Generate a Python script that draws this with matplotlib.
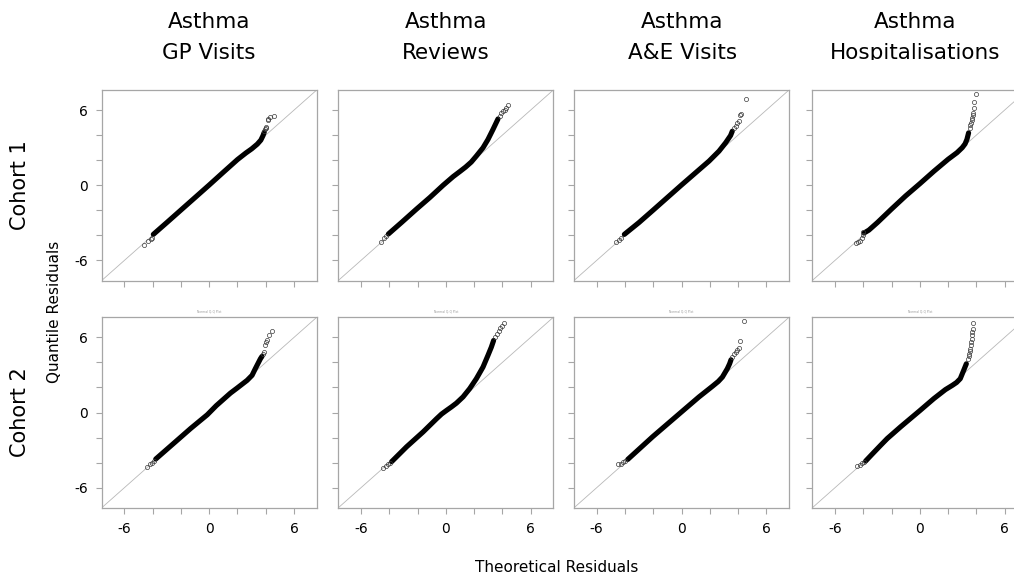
import matplotlib
matplotlib.use("Agg")
import matplotlib.pyplot as plt
from matplotlib.transforms import Bbox

plt.rcParams['font.family'] = ['DejaVu Sans']
plt.rcParams['axes.unicode_minus'] = False

outcomes = ["Asthma\nGP Visits", "Asthma\nReviews", "Asthma\nA&E Visits", "Asthma\nHospitalisations"]
cohorts = ["Cohort 1", "Cohort 2"]
tick_values = [-6, -4, -2, 0, 2, 4, 6]
tick_labels = ["-6", "", "", "0", "", "", "6"]

# Cohort 1 -- dense body of the Q-Q curve (theoretical, sample) and sparse tail points
c1_gp_x = [-3.95, -3.0, -2.0, -1.0, 0.0, 1.0, 2.0, 2.6, 3.0, 3.4, 3.65, 3.8, 3.88]
c1_gp_y = [-3.92, -2.98, -1.98, -0.98, 0.02, 1.04, 2.05, 2.58, 2.9, 3.28, 3.6, 3.95, 4.2]
c1_gp_tx = [-4.60, -4.32, -4.13, -4.05, 3.90, 3.95, 4.01, 4.05, 4.15, 4.18, 4.32, 4.58]
c1_gp_ty = [-4.76, -4.47, -4.31, -4.20, 4.31, 4.45, 4.58, 4.65, 5.19, 5.25, 5.45, 5.50]

c1_rev_x = [-4.06, -3.12, -2.07, -1.13, -0.19, 0.52, 1.0, 1.4, 1.8, 2.16, 2.63, 2.98, 3.33, 3.69]
c1_rev_y = [-3.89, -2.96, -1.90, -0.98, 0.0, 0.69, 1.1, 1.45, 1.85, 2.33, 2.99, 3.65, 4.44, 5.29]
c1_rev_tx = [-4.60, -4.37, -4.23, 3.80, 3.92, 4.04, 4.15, 4.23, 4.37]
c1_rev_ty = [-4.52, -4.23, -4.02, 5.56, 5.77, 5.93, 6.03, 6.16, 6.38]

c1_ae_x = [-4.04, -3.0, -2.0, -1.0, 0.0, 1.0, 1.95, 2.65, 3.12, 3.47, 3.59]
c1_ae_y = [-3.92, -2.97, -1.98, -0.98, 0.02, 1.0, 1.93, 2.72, 3.39, 3.97, 4.31]
c1_ae_tx = [-4.62, -4.44, -4.27, 3.71, 3.83, 3.94, 4.06, 4.13, 4.23, 4.58]
c1_ae_ty = [-4.52, -4.39, -4.23, 4.58, 4.76, 4.97, 5.11, 5.63, 5.69, 6.90]

c1_hosp_x = [-3.94, -3.6, -3.0, -2.0, -1.0, 0.0, 1.0, 2.0, 2.63, 3.0, 3.2, 3.33, 3.45]
c1_hosp_y = [-3.81, -3.58, -2.98, -1.9, -0.85, 0.12, 1.12, 2.07, 2.6, 3.0, 3.3, 3.65, 4.18]
c1_hosp_tx = [-4.53, -4.37, -4.23, -4.11, -4.01, -3.99, 3.52, 3.55, 3.62, 3.66, 3.69, 3.73, 3.76, 3.80, 3.85, 3.94]
c1_hosp_ty = [-4.60, -4.50, -4.42, -4.23, -3.97, -3.76, 4.58, 4.80, 4.97, 5.20, 5.37, 5.60, 5.77, 6.16, 6.61, 7.30]

# Cohort 2
c2_gp_x = [-3.78, -2.25, -1.31, -0.14, 0.5, 1.03, 1.5, 1.97, 2.68, 3.03, 3.26, 3.62, 3.73]
c2_gp_y = [-3.71, -2.20, -1.27, -0.18, 0.55, 1.08, 1.55, 1.95, 2.57, 2.97, 3.50, 4.29, 4.48]
c2_gp_tx = [-4.41, -4.18, -4.06, -3.90, 3.80, 3.85, 3.92, 4.01, 4.08, 4.20, 4.44]
c2_gp_ty = [-4.32, -4.11, -4.03, -3.84, 4.69, 4.82, 5.35, 5.62, 5.80, 6.15, 6.49]

c2_rev_x = [-3.83, -2.77, -1.60, -0.66, -0.3, 0.05, 0.4, 0.75, 1.22, 1.69, 2.16, 2.63, 2.98, 3.22, 3.38]
c2_rev_y = [-3.92, -2.73, -1.54, -0.5, -0.12, 0.17, 0.45, 0.75, 1.25, 1.91, 2.70, 3.63, 4.56, 5.22, 5.75]
c2_rev_tx = [-4.46, -4.23, -4.06, -3.94, 3.50, 3.62, 3.73, 3.85, 3.97, 4.11]
c2_rev_ty = [-4.45, -4.26, -4.13, -4.00, 6.01, 6.28, 6.54, 6.75, 6.94, 7.13]

c2_ae_x = [-3.80, -2.04, 0.0, 1.24, 2.18, 2.6, 2.89, 3.24, 3.40, 3.50]
c2_ae_y = [-3.74, -1.93, 0.05, 1.25, 2.09, 2.48, 2.83, 3.50, 3.89, 4.21]
c2_ae_tx = [-4.51, -4.27, -4.11, -3.97, 3.59, 3.71, 3.83, 3.94, 4.06, 4.13, 4.41]
c2_ae_ty = [-4.11, -4.11, -3.92, -3.84, 4.42, 4.64, 4.82, 5.01, 5.17, 5.70, 7.28]

c2_hosp_x = [-3.83, -3.36, -2.8, -2.30, -1.36, 0.0, 0.99, 1.81, 2.3, 2.6, 2.86, 3.10, 3.29]
c2_hosp_y = [-3.87, -3.31, -2.65, -2.07, -1.14, 0.15, 1.11, 1.83, 2.17, 2.4, 2.70, 3.36, 3.89]
c2_hosp_tx = [-4.41, -4.23, -4.06, -3.94, 3.40, 3.45, 3.50, 3.54, 3.57, 3.60, 3.64, 3.67, 3.69, 3.71, 3.73, 3.76]
c2_hosp_ty = [-4.24, -4.16, -4.05, -3.92, 4.29, 4.50, 4.69, 4.90, 5.09, 5.35, 5.62, 5.90, 6.15, 6.40, 6.68, 7.15]

panels = [
    [(c1_gp_x, c1_gp_y, c1_gp_tx, c1_gp_ty), (c1_rev_x, c1_rev_y, c1_rev_tx, c1_rev_ty),
     (c1_ae_x, c1_ae_y, c1_ae_tx, c1_ae_ty), (c1_hosp_x, c1_hosp_y, c1_hosp_tx, c1_hosp_ty)],
    [(c2_gp_x, c2_gp_y, c2_gp_tx, c2_gp_ty), (c2_rev_x, c2_rev_y, c2_rev_tx, c2_rev_ty),
     (c2_ae_x, c2_ae_y, c2_ae_tx, c2_ae_ty), (c2_hosp_x, c2_hosp_y, c2_hosp_tx, c2_hosp_ty)],
]

W, H = 1014, 577
fig = plt.figure(figsize=(W / 100, H / 100), dpi=100)

col_left = [101.7, 338.3, 574.0, 812.3]   # pixels
row_top = [90.0, 317.3]
pw, ph = 215.0, 190.5
lim = 7.6
grey = '#a6a6a6'

for r in range(2):
    for c in range(4):
        left = col_left[c] / W
        bottom = 1 - (row_top[r] + ph) / H
        ax = fig.add_axes([left, bottom, pw / W, ph / H])
        bx, by, tx, ty = panels[r][c]
        ax.plot([-lim, lim], [-lim, lim], color='#b8b8b8', lw=0.6, zorder=1)
        ax.plot(bx, by, color='black', lw=3.7, solid_capstyle='round',
                solid_joinstyle='round', zorder=2)
        ax.plot(tx, ty, linestyle='none', marker='o', markersize=3.0,
                markerfacecolor='none', markeredgecolor='#3a3a3a',
                markeredgewidth=0.5, zorder=3)
        ax.set_xlim(-lim, lim)
        ax.set_ylim(-lim, lim)
        ax.set_xticks(tick_values)
        ax.set_yticks(tick_values)
        ax.set_xticklabels(tick_labels if r == 1 else [""] * 7)
        ax.set_yticklabels(tick_labels if c == 0 else [""] * 7)
        ax.tick_params(length=4, width=0.8, color=grey, labelsize=10, pad=6,
                       labelcolor='black')
        for sp in ax.spines.values():
            sp.set_color(grey)
            sp.set_linewidth(0.9)
        if r == 1:
            ax.text(0.5, 1.02, "Normal Q-Q Plot", transform=ax.transAxes,
                    ha='center', va='bottom', fontsize=2.2, color='#999999')

# column titles (second line is cut off at the bottom of the title strip)
col_centers = [208.7, 446.0, 682.3, 915.0]
clip = Bbox.from_extents(0, H - 60, W, H)
for c, title in enumerate(outcomes):
    line1, line2 = title.split("\n")
    fig.text(col_centers[c] / W, 1 - 22 / H, line1, ha='center', va='center', fontsize=15.5)
    t2 = fig.text(col_centers[c] / W, 1 - 53 / H, line2, ha='center', va='center', fontsize=15.5)
    t2.set_clip_on(True)
    t2.set_clip_box(clip)

# row labels
for r, lab in enumerate(cohorts):
    yc = row_top[r] + ph / 2
    fig.text(20 / W, 1 - yc / H, lab, rotation=90, ha='center', va='center', fontsize=15)

fig.text(55 / W, 1 - 312 / H, "Quantile Residuals", rotation=90, ha='center', va='center', fontsize=11)
fig.text(557 / W, 1 - 567 / H, "Theoretical Residuals", ha='center', va='center', fontsize=11)

fig.savefig("out.png", dpi=100)
